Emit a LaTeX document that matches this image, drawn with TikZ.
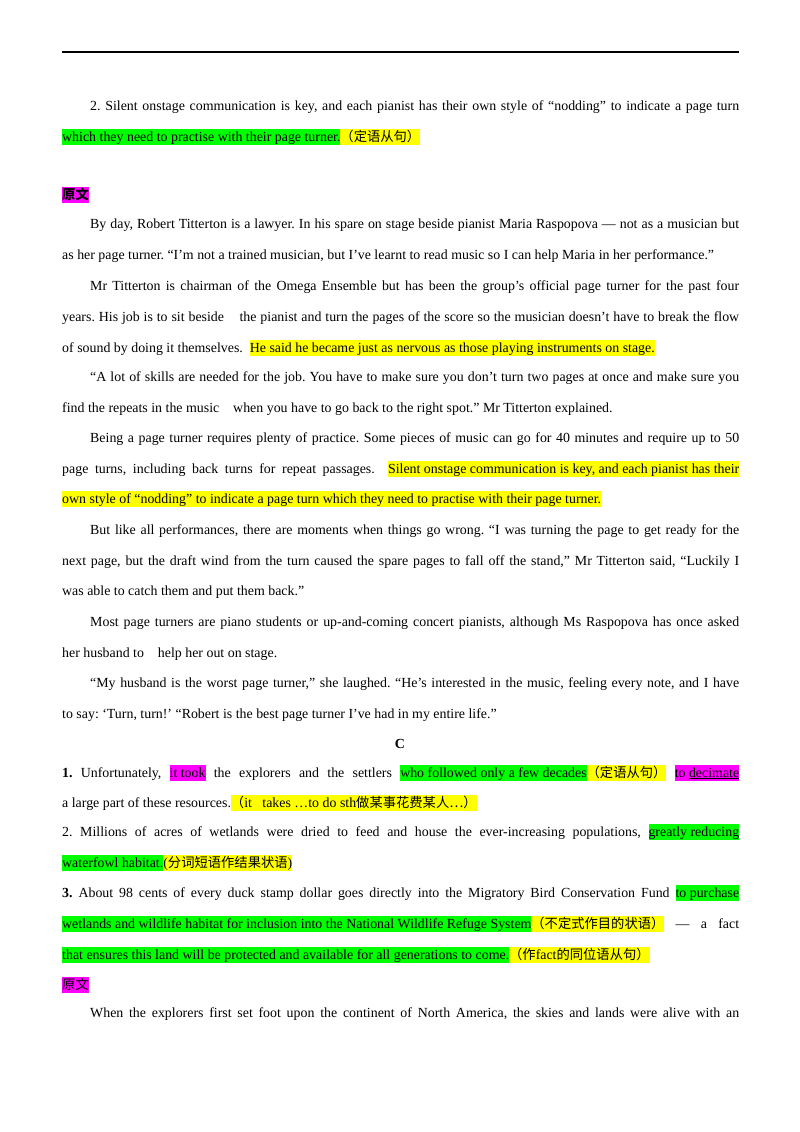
\documentclass[tikz,border=0pt]{standalone}
\usepackage{fontspec}
\setmainfont{Liberation Serif}
\newfontfamily\zhf{Noto Sans CJK SC}
\usepackage{xcolor}
\definecolor{hy}{HTML}{FFFF00}
\definecolor{hg}{HTML}{00FF00}
\definecolor{hm}{HTML}{FF00FF}
\frenchspacing
\newcommand\zh[1]{{\zhf\fontsize{13.3}{15}\selectfont #1}}
\newcommand\hstrut{\rule[-4pt]{0pt}{16.5pt}}
\newcommand\hly[1]{{\setlength\fboxsep{0pt}\colorbox{hy}{\hstrut#1}}}
\newcommand\hlg[1]{{\setlength\fboxsep{0pt}\colorbox{hg}{\hstrut#1}}}
\newcommand\hlm[1]{{\setlength\fboxsep{0pt}\colorbox{hm}{\hstrut#1}}}
\begin{document}
\begin{tikzpicture}[x=1pt,y=-1pt,
  ln/.style={anchor=base west,inner sep=0pt,font=\fontsize{13.9}{16}\selectfont}]
\useasboundingbox (0,0) rectangle (800,1132);
\fill[white] (0,0) rectangle (800,1132);
\draw[line width=1.5pt] (62,52) -- (739,52);
\newcommand\J[3]{\node[ln] (#1) at (#2) {\hbox to 677pt{#3}};}
\newcommand\I[3]{\node[ln] (#1) at (#2) {\hbox to 649pt{#3}};}
\I{l1}{90,110}{2. Silent onstage communication is key, and each pianist has their own style of “nodding” to indicate a page turn}
\node[ln] (l2) at (62,141) {\hlg{which they need to practise with their page turner.}\hly{\zh{（定语从句）}}};
\node[ln] (l3) at (62,199) {\hlm{\zh{\bfseries 原文}}};
\I{l4}{90,228}{By day, Robert Titterton is a lawyer. In his spare on stage beside pianist Maria Raspopova — not as a musician but}
\node[ln] (l5) at (62,259) {as her page turner. “I’m not a trained musician, but I’ve learnt to read music so I can help Maria in her performance.”};
\I{l6}{90,290}{Mr Titterton is chairman of the Omega Ensemble but has been the group’s official page turner for the past four}
\J{l7}{62,321}{years. His job is to sit beside \ \ \ the pianist and turn the pages of the score so the musician doesn’t have to break the flow}
\node[ln] (l8) at (62,352) {of sound by doing it themselves.\ \ \hly{He said he became just as nervous as those playing instruments on stage.}};
\I{l9}{90,381}{“A lot of skills are needed for the job. You have to make sure you don’t turn two pages at once and make sure you}
\node[ln] (l10) at (62,412) {find the repeats in the music \ \ \ when you have to go back to the right spot.” Mr Titterton explained.};
\I{l11}{90,442}{Being a page turner requires plenty of practice. Some pieces of music can go for 40 minutes and require up to 50}
\J{l12}{62,473}{page turns, including back turns for repeat passages. \ \hly{Silent\ onstage\ communication\ is\ key,\ and\ each\ pianist\ has\ their}}
\node[ln] (l13) at (62,503) {\hly{own style of “nodding” to indicate a page turn which they need to practise with their page turner.}};
\I{l14}{90,534}{But like all performances, there are moments when things go wrong. “I was turning the page to get ready for the}
\J{l15}{62,565}{next page, but the draft wind from the turn caused the spare pages to fall off the stand,” Mr Titterton said, “Luckily I}
\node[ln] (l16) at (62,595) {was able to catch them and put them back.”};
\I{l17}{90,626}{Most page turners are piano students or up-and-coming concert pianists, although Ms Raspopova has once asked}
\node[ln] (l18) at (62,657) {her husband to \ \ \ help her out on stage.};
\I{l19}{90,687}{“My husband is the worst page turner,” she laughed. “He’s interested in the music, feeling every note, and I have}
\node[ln] (l20) at (62,718) {to say: ‘Turn, turn!’ “Robert is the best page turner I’ve had in my entire life.”};
\node[ln,anchor=base] (l21) at (400,748) {\bfseries C};
\J{l22}{62,777}{\textbf{1.} Unfortunately, \hlm{it took} the explorers and the settlers \hlg{who followed only a few decades}\hly{\zh{（定语从句）}} \hlm{to \underline{decimate}}}
\node[ln] (l23) at (62,807) {a large part of these resources.\hly{\zh{（}it \ \ takes …to do sth\zh{做某事花费某人…）}}};
\J{l24}{62,836}{2. Millions of acres of wetlands were dried to feed and house the ever-increasing populations, \hlg{greatly reducing}}
\node[ln] (l25) at (62,867) {\hlg{waterfowl habitat.}\hly{(\zh{分词短语作结果状语})}};
\J{l26}{62,897}{\textbf{3.} About 98 cents of every duck stamp dollar goes directly into the Migratory Bird Conservation Fund \hlg{to purchase}}
\J{l27}{62,928}{\hlg{wetlands and wildlife habitat for inclusion into the National Wildlife Refuge System}\hly{\zh{（不定式作目的状语）}} — a fact}
\node[ln] (l28) at (62,959) {\hlg{that ensures this land will be protected and available for all generations to come.}\hly{\zh{（作}fact\zh{的同位语从句）}}};
\node[ln] (l29) at (62,989) {\hlm{\zh{原文}}};
\I{l30}{90,1017}{When the explorers first set foot upon the continent of North America, the skies and lands were alive with an}
\end{tikzpicture}
\end{document}
